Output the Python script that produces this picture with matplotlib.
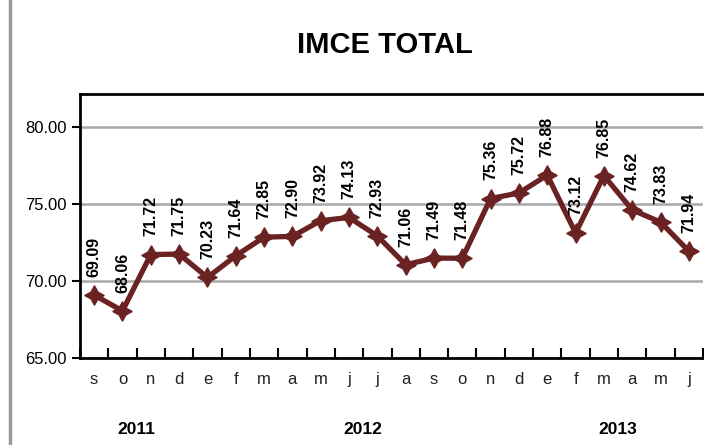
import matplotlib.pyplot as plt
from matplotlib import font_manager

# datos IMCE total
meses = ["s", "o", "n", "d", "e", "f", "m", "a", "m", "j", "j",
         "a", "s", "o", "n", "d", "e", "f", "m", "a", "m", "j"]
valores = [69.09, 68.06, 71.72, 71.75, 70.23, 71.64, 72.85, 72.90, 73.92, 74.13, 72.93,
           71.06, 71.49, 71.48, 75.36, 75.72, 76.88, 73.12, 76.85, 74.62, 73.83, 71.94]
anios = ["2011", "2012", "2013"]
meses_por_anio = [4, 12, 6]

nombres = {f.name for f in font_manager.fontManager.ttflist}
fuente = "Liberation Sans Narrow" if "Liberation Sans Narrow" in nombres else "Liberation Sans"
plt.rcParams["font.family"] = [fuente, "DejaVu Sans"]

color = "#6b2222"

fig = plt.figure(figsize=(7.04, 4.45), dpi=100)
ax = fig.add_axes([80 / 704, 1 - 358 / 445, 623 / 704, (358 - 94) / 445])

x = list(range(len(valores)))
ax.plot(x, valores, color=color, lw=3.8, marker=(4, 1, 0), ms=14, mfc=color, mec=color, zorder=3)

for xi, v in zip(x, valores):
    ax.annotate(f"{v:.2f}", (xi, v), xytext=(0, 13), textcoords="offset points",
                rotation=90, ha="center", va="bottom", fontsize=11.5, fontweight="bold")

ax.set_xlim(-0.5, len(valores) - 0.5)
ax.set_ylim(65, 82.15)
ax.set_yticks([65, 70, 75, 80])
ax.set_yticklabels(["65.00", "70.00", "75.00", "80.00"], fontsize=12)
ax.set_xticks(x)
ax.set_xticklabels(meses, fontsize=12, color="#222222")
ax.tick_params(axis="x", length=0, pad=10)
ax.set_xticks([i - 0.5 for i in range(len(valores) + 1)], minor=True)
ax.tick_params(axis="x", which="minor", length=7, width=1.5, direction="in")
ax.tick_params(axis="y", length=6, width=1.5, direction="out")
ax.grid(axis="y", color="#a8a8a8", lw=1.8)
ax.set_axisbelow(True)
for s in ax.spines.values():
    s.set_linewidth(2)
ax.spines["right"].set_visible(False)

# etiquetas de anio
inicio = 0
for anio, n in zip(anios, meses_por_anio):
    centro = inicio + (n - 1) / 2
    ax.text(centro, -0.27, anio, transform=ax.get_xaxis_transform(), ha="center", va="center",
            fontsize=12.5, fontweight="bold")
    inicio += n

fig.text(385 / 704, 1 - 45 / 445, "IMCE TOTAL", ha="center", va="center",
         fontsize=21, fontweight="bold")

# marco exterior
fig.add_artist(plt.Line2D([10 / 704, 10 / 704], [0, 1], color="#999999", lw=2.5))

fig.savefig("out.png", dpi=100)
